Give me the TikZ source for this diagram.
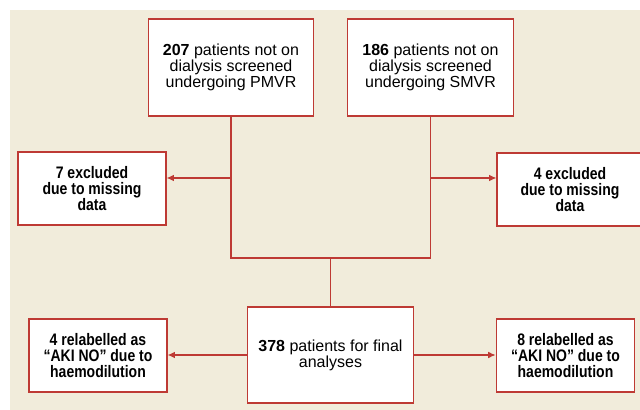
\documentclass[tikz,border=0pt]{standalone}
\usepackage{fontspec}
\setmainfont{Liberation Sans}[BoldFeatures={FakeStretch=0.84}]
\newfontfamily\numbold{Liberation Sans Bold}
\usetikzlibrary{positioning, arrows.meta, calc}
\usepackage{xcolor}
\definecolor{flowred}{HTML}{BE3A34}
\definecolor{panelbg}{HTML}{F1ECDB}
\tikzset{
  base/.style={draw=flowred, fill=white, align=center, line width=0.9pt,
               inner sep=2pt, font=\fontsize{12}{12}\selectfont},
  srcbox/.style={base, minimum width=124pt, minimum height=72.75pt},
  outbox/.style={base, minimum width=106pt, minimum height=54.75pt, font=\fontsize{12.5}{12}\selectfont\bfseries},
  link/.style={draw=flowred, line width=0.8pt},
  arrow/.style={link, -{Latex[length=5.5pt, width=5pt]}},
}

\begin{document}
\begin{tikzpicture}[x=0.75pt, y=-0.75pt]

%% ====================  CANVAS  ====================

\useasboundingbox (0,0) rectangle (640,410);
\fill[panelbg] (10,10) rectangle (640,410);

%% ====================  ROW 1: SCREENED  ====================

\node[srcbox] (pmvr) at (231,67.5) {{\numbold 207} patients not on\\dialysis screened\\undergoing PMVR};
\node[srcbox] (smvr) at (430.5,67.5) {{\numbold 186} patients not on\\dialysis screened\\undergoing SMVR};

%% ====================  ROW 2: EXCLUDED  ====================

\node[outbox, minimum width=111pt] (excl_l) at (92,188.5) {7 excluded\\due to missing\\data};
\node[outbox, minimum width=109.5pt] (excl_r) at (570,189.5) {4 excluded\\due to missing\\data};

%% ====================  ROW 3: FINAL  ====================

\node[srcbox, minimum height=72pt] (final) at (330.5,355) {{\numbold 378} patients for final\\analyses};
\node[outbox, minimum width=103.5pt] (rel_l) at (98,355.5) {4 relabelled as\\``AKI NO'' due to\\haemodilution};
\node[outbox, minimum width=104pt] (rel_r) at (565.5,355.5) {8 relabelled as\\``AKI NO'' due to\\haemodilution};

%% ====================  ARROWS  ====================

\coordinate (merge) at (330.5,258);
\coordinate (split_l) at (231,178);
\coordinate (split_r) at (430.5,178);

\draw[link] (pmvr.south) |- (merge) -| (smvr.south);
\draw[link] (merge) -- (final.north);

\draw[arrow] (split_l) -- (excl_l.east |- split_l);
\draw[arrow] (split_r) -- (excl_r.west |- split_r);

\draw[arrow] (final.west) -- (rel_l.east |- final.west);
\draw[arrow] (final.east) -- (rel_r.west |- final.east);

\end{tikzpicture}
\end{document}
